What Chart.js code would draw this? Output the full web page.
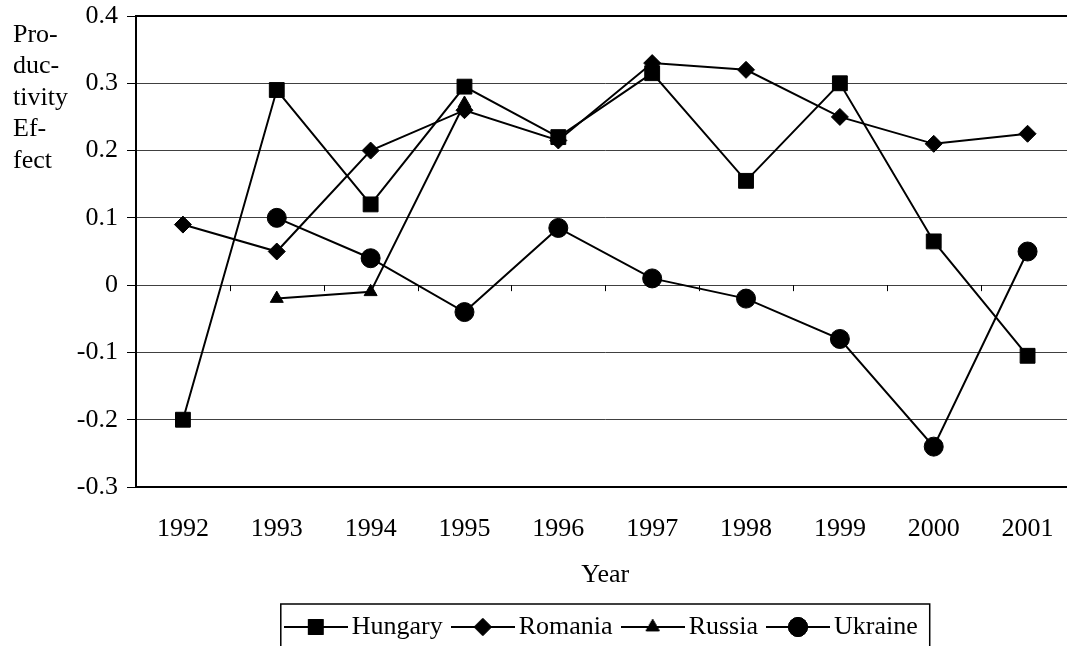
<!DOCTYPE html>
<html>
<head>
<meta charset="utf-8">
<script src="https://cdn.jsdelivr.net/npm/chart.js@4.4.0/dist/chart.umd.min.js"></script>
<style>
  html, body { margin: 0; padding: 0; background: #fff; overflow: hidden; }
  #wrap { width: 1086px; height: 660px; }
</style>
</head>
<body>
<div id="wrap"><canvas id="lineChart" width="1086" height="660"></canvas></div>
<script>
const years = ['1992', '1993', '1994', '1995', '1996', '1997', '1998', '1999', '2000', '2001'];
const hungary = [-0.2, 0.29, 0.12, 0.295, 0.22, 0.315, 0.155, 0.30, 0.065, -0.105];
const romania = [0.09, 0.05, 0.2, 0.26, 0.215, 0.33, 0.32, 0.25, 0.21, 0.225];
const russia = [null, -0.02, -0.01, 0.27, null, null, null, null, null, null];
const ukraine = [null, 0.1, 0.04, -0.04, 0.085, 0.01, -0.02, -0.08, -0.24, 0.05];
const yTicks = [-0.3, -0.2, -0.1, 0, 0.1, 0.2, 0.3, 0.4];
const yTitle = ['Pro-', 'duc-', 'tivity', 'Ef-', 'fect'];

const FONT = '"Liberation Serif", "Times New Roman", serif';
Chart.defaults.font.family = FONT;
Chart.defaults.font.size = 26;
Chart.defaults.color = '#000';

// marker settings per series
const markers = [
  { style: 'rect', radius: 10.5 },
  { style: 'rectRot', radius: 8.5 },
  { style: 'triangle', radius: 7.5 },
  { style: 'circle', radius: 9.5 }
];

// small canvas with line + marker, used as legend symbol
function legendSymbol(m) {
  const c = document.createElement('canvas');
  c.width = 64;
  c.height = 26;
  const g = c.getContext('2d');
  g.strokeStyle = '#000';
  g.lineWidth = 2;
  g.beginPath();
  g.moveTo(0, 13);
  g.lineTo(64, 13);
  g.stroke();
  g.fillStyle = '#000';
  g.lineWidth = 1;
  Chart.helpers.drawPoint(g, { pointStyle: m.style, radius: m.radius, borderWidth: 1, rotation: 0 }, 32, 13);
  g.fill();
  g.stroke();
  return c;
}

function series(label, data, i) {
  return {
    label: label,
    data: data,
    borderColor: '#000',
    backgroundColor: '#000',
    borderWidth: 2,
    pointStyle: markers[i].style,
    pointRadius: markers[i].radius,
    pointBorderWidth: 1,
    pointHoverRadius: markers[i].radius,
    tension: 0,
    spanGaps: false
  };
}

const framePlugin = {
  id: 'frame',
  beforeDatasetsDraw(chart) {
    const { ctx, chartArea: a, scales } = chart;
    ctx.save();
    // x axis tick marks on the zero line
    const y0 = scales.y.getPixelForValue(0);
    ctx.strokeStyle = '#000';
    ctx.lineWidth = 1;
    for (let i = 1; i < years.length; i++) {
      const x = Math.round(scales.x.getPixelForValue(i - 0.5)) + 0.5;
      ctx.beginPath();
      ctx.moveTo(x, y0);
      ctx.lineTo(x, y0 + 6);
      ctx.stroke();
    }
    // plot border
    ctx.lineWidth = 2;
    ctx.strokeRect(a.left, a.top, a.right - a.left, a.bottom - a.top);
    ctx.restore();
  },
  afterDraw(chart) {
    const { ctx } = chart;
    ctx.save();
    // y axis title, stacked lines
    ctx.font = '26px ' + FONT;
    ctx.fillStyle = '#000';
    ctx.textAlign = 'left';
    ctx.textBaseline = 'middle';
    yTitle.forEach((t, i) => ctx.fillText(t, 13, 35 + i * 31.5));
    // legend frame
    const hb = chart.legend.legendHitBoxes;
    if (hb && hb.length) {
      const first = hb[0];
      const last = hb[hb.length - 1];
      const left = first.left - 12;
      const right = last.left + last.width + 12;
      const top = first.top + first.height / 2 - 23;
      ctx.strokeStyle = '#000';
      ctx.lineWidth = 1.5;
      ctx.strokeRect(left, top, right - left, chart.height + 20 - top);
    }
    ctx.restore();
  }
};

const ctx = document.getElementById('lineChart').getContext('2d');

const lineChart = new Chart(ctx, {
  type: 'line',
  data: {
    labels: years,
    datasets: [
      series('Hungary', hungary, 0),
      series('Romania', romania, 1),
      series('Russia', russia, 2),
      series('Ukraine', ukraine, 3)
    ]
  },
  options: {
    responsive: false,
    animation: false,
    devicePixelRatio: 1,
    layout: { padding: { left: 0, right: 0, top: 16, bottom: 10 } },
    scales: {
      x: {
        offset: true,
        grid: { display: false, drawTicks: false },
        border: { display: false },
        ticks: { padding: 27, maxRotation: 0, autoSkip: false },
        title: { display: true, text: 'Year', padding: { top: 0, bottom: 6 } },
        afterFit(scale) {
          scale.height = 110;
          scale.paddingLeft = 0;
          scale.paddingRight = 0;
        }
      },
      y: {
        min: -0.3,
        max: 0.4,
        afterBuildTicks(scale) {
          scale.ticks = yTicks.map(v => ({ value: v }));
        },
        afterFit(scale) {
          scale.width = 136;
          scale.paddingTop = 0;
          scale.paddingBottom = 0;
        },
        grid: { color: '#404040', lineWidth: 1, tickLength: 9, tickColor: '#000' },
        border: { display: false },
        ticks: {
          padding: 9,
          callback: v => (Math.abs(v) < 1e-9 ? '0' : v.toFixed(1))
        }
      }
    },
    plugins: {
      legend: {
        position: 'bottom',
        fullSize: false,
        labels: {
          usePointStyle: true,
          pointStyleWidth: 46,
          padding: 17,
          color: '#000',
          generateLabels(chart) {
            return chart.data.datasets.map((d, i) => ({
              text: d.label,
              pointStyle: legendSymbol(markers[i]),
              fillStyle: '#000',
              strokeStyle: '#000',
              lineWidth: 0,
              hidden: false,
              datasetIndex: i
            }));
          }
        }
      },
      tooltip: { enabled: false }
    }
  },
  plugins: [framePlugin]
});
</script>
</body>
</html>
